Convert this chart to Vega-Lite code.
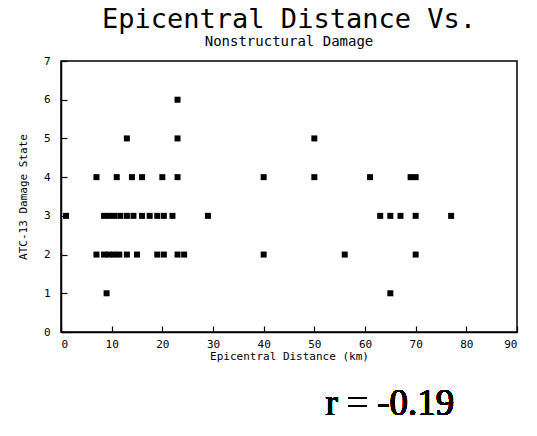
{
  "$schema": "https://vega.github.io/schema/vega-lite/v6.json",
  "width": 456,
  "height": 271,
  "autosize": {"type": "none"},
  "padding": {"left": 61, "top": 61, "right": 20, "bottom": 104},
  "background": "white",
  "title": {
    "text": "Epicentral Distance Vs.",
    "subtitle": "Nonstructural Damage",
    "font": "DejaVu Sans Mono",
    "fontSize": 27,
    "fontWeight": "normal",
    "subtitleFont": "DejaVu Sans Mono",
    "subtitleFontSize": 14,
    "subtitleFontWeight": "normal",
    "subtitleColor": "black",
    "subtitlePadding": 1,
    "color": "black",
    "anchor": "middle",
    "offset": 5
  },
  "config": {
    "view": {"stroke": "black", "strokeWidth": 1.5},
    "axis": {
      "grid": false,
      "domainColor": "black",
      "domainWidth": 1.5,
      "tickColor": "black",
      "labelFont": "DejaVu Sans Mono",
      "labelFontSize": 11,
      "labelColor": "black",
      "titleFont": "DejaVu Sans Mono",
      "titleFontSize": 11,
      "titleFontWeight": "normal",
      "titleColor": "black"
    }
  },
  "data": {
    "values": [
      {"dist": 23, "state": 6},
      {"dist": 13, "state": 5},
      {"dist": 23, "state": 5},
      {"dist": 50, "state": 5},
      {"dist": 7, "state": 4},
      {"dist": 11, "state": 4},
      {"dist": 14, "state": 4},
      {"dist": 16, "state": 4},
      {"dist": 20, "state": 4},
      {"dist": 23, "state": 4},
      {"dist": 40, "state": 4},
      {"dist": 50, "state": 4},
      {"dist": 61, "state": 4},
      {"dist": 69, "state": 4},
      {"dist": 70, "state": 4},
      {"dist": 1, "state": 3},
      {"dist": 8.5, "state": 3},
      {"dist": 9.5, "state": 3},
      {"dist": 10.5, "state": 3},
      {"dist": 11.7, "state": 3},
      {"dist": 13, "state": 3},
      {"dist": 14.3, "state": 3},
      {"dist": 16, "state": 3},
      {"dist": 17.5, "state": 3},
      {"dist": 19, "state": 3},
      {"dist": 20.3, "state": 3},
      {"dist": 22, "state": 3},
      {"dist": 29, "state": 3},
      {"dist": 63, "state": 3},
      {"dist": 65, "state": 3},
      {"dist": 67, "state": 3},
      {"dist": 70, "state": 3},
      {"dist": 77, "state": 3},
      {"dist": 7, "state": 2},
      {"dist": 8.5, "state": 2},
      {"dist": 9.5, "state": 2},
      {"dist": 10.5, "state": 2},
      {"dist": 11.5, "state": 2},
      {"dist": 13, "state": 2},
      {"dist": 15, "state": 2},
      {"dist": 19, "state": 2},
      {"dist": 20.3, "state": 2},
      {"dist": 23, "state": 2},
      {"dist": 24.3, "state": 2},
      {"dist": 40, "state": 2},
      {"dist": 56, "state": 2},
      {"dist": 70, "state": 2},
      {"dist": 9, "state": 1},
      {"dist": 65, "state": 1}
    ]
  },
  "resolve": {"scale": {"x": "independent", "y": "independent"}, "axis": {"x": "independent", "y": "independent"}},
  "layer": [
    {
      "mark": {"type": "point", "shape": "square", "filled": true, "color": "black", "size": 36, "opacity": 1},
      "encoding": {
        "x": {
          "field": "dist", "type": "quantitative",
          "scale": {"domain": [0, 90], "nice": false, "zero": false},
          "axis": {"values": [0,10,20,30,40,50,60,70,80,90], "title": "Epicentral Distance (km)", "tickSize": -6, "tickWidth": 1.2, "labelOverlap": false, "labelPadding": 12, "titlePadding": 1}
        },
        "y": {
          "field": "state", "type": "quantitative",
          "scale": {"domain": [0, 7], "nice": false},
          "axis": {"values": [0,1,2,3,4,5,6,7], "title": "ATC-13 Damage State", "tickSize": -6, "tickWidth": 1.2, "labelOverlap": false, "labelPadding": 17, "titlePadding": 15}
        }
      }
    },
    {
      "mark": {"type": "text", "font": "Liberation Serif", "fontSize": 37, "fontWeight": 400, "color": "black", "align": "center", "baseline": "middle", "clip": false},
      "encoding": {
        "x": {"datum": 64.9, "scale": {"domain": [0, 90], "nice": false, "zero": false}, "axis": null},
        "y": {"datum": -1.85, "scale": {"domain": [0, 7], "nice": false}, "axis": null},
        "text": {"value": "r = -0.19"}
      }
    }
  ]
}
